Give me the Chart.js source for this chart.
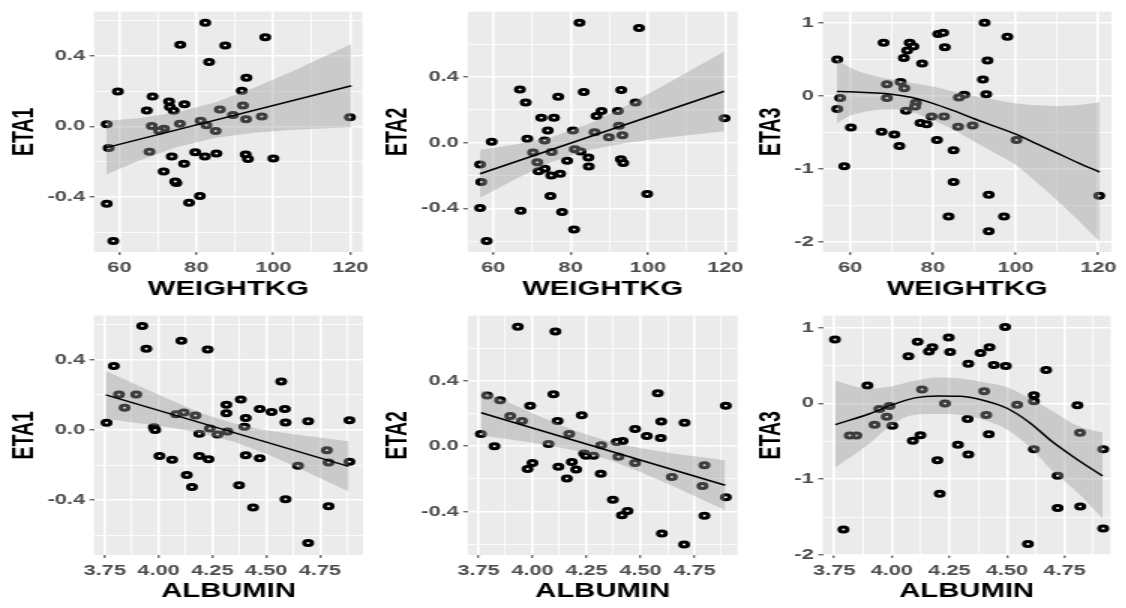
<!DOCTYPE html>
<html lang="pt">
<head>
<meta charset="utf-8">
<title>ETA vs covariáveis</title>
<script src="https://cdn.jsdelivr.net/npm/chart.js@4.4.1/dist/chart.umd.min.js"></script>
<style>
    body { margin: 0; background: #ffffff; width: 1126px; height: 608px; overflow: hidden; position: relative; }
    /* a figura original está esticada na horizontal, por isso cada painel é escalado */
    .painel { position: absolute; width: 250px; height: 304px; transform: scaleX(1.5); transform-origin: 0 0; }
</style>
</head>
<body>
<div class="painel" style="left:0;top:0"><canvas id="g1"></canvas></div>
<div class="painel" style="left:375px;top:0"><canvas id="g2"></canvas></div>
<div class="painel" style="left:750px;top:0"><canvas id="g3"></canvas></div>
<div class="painel" style="left:0;top:304px"><canvas id="g4"></canvas></div>
<div class="painel" style="left:375px;top:304px"><canvas id="g5"></canvas></div>
<div class="painel" style="left:750px;top:304px"><canvas id="g6"></canvas></div>

<script>
/* Marcas dos eixos */
const ticksPeso = [60, 80, 100, 120];
const minorPeso = [70, 90, 110];
const ticksAlbumina = [3.75, 4.00, 4.25, 4.50, 4.75];
const minorAlbumina = [3.875, 4.125, 4.375, 4.625, 4.875];
const ticksEta12 = [-0.4, 0.0, 0.4];
const minorEta12 = [-0.6, -0.2, 0.2, 0.6];
const ticksEta3 = [-2, -1, 0, 1];
const minorEta3 = [-1.5, -0.5, 0.5];

/* Pontos [x, y] de cada painel */
const eta1Peso = [
    [82.3, 0.589], [97.9, 0.506], [75.8, 0.463], [87.5, 0.459], [83.3, 0.365], [93.0, 0.276],
    [91.8, 0.202], [59.6, 0.198], [68.6, 0.170], [72.9, 0.141], [76.9, 0.126], [92.1, 0.119],
    [73.1, 0.111], [74.1, 0.089], [67.1, 0.091], [86.1, 0.096], [89.5, 0.065], [97.0, 0.057],
    [92.9, 0.041], [119.9, 0.052], [56.7, 0.013], [81.1, 0.033], [75.7, 0.015], [68.4, 0.002],
    [71.6, -0.013], [70.3, -0.024], [82.6, 0.007], [85.0, -0.026], [57.2, -0.122], [67.8, -0.143],
    [79.7, -0.146], [82.2, -0.170], [85.2, -0.154], [73.6, -0.170], [92.8, -0.159], [93.4, -0.185],
    [100.0, -0.181], [76.8, -0.211], [71.5, -0.256], [74.8, -0.320], [74.5, -0.312], [80.9, -0.394],
    [78.1, -0.433], [56.7, -0.439], [58.4, -0.650]
];
const eta2Peso = [
    [82.3, 0.732], [97.7, 0.700], [66.9, 0.324], [93.1, 0.322], [83.4, 0.310], [76.8, 0.281],
    [68.4, 0.245], [96.8, 0.245], [88.0, 0.193], [92.2, 0.193], [86.7, 0.163], [72.4, 0.153],
    [75.7, 0.153], [92.5, 0.103], [74.1, 0.074], [80.6, 0.074], [86.2, 0.064], [93.4, 0.046],
    [89.9, 0.034], [119.8, 0.149], [59.6, 0.006], [68.8, 0.024], [73.3, 0.014], [70.3, -0.060],
    [75.1, -0.056], [81.1, -0.040], [82.6, -0.054], [71.4, -0.119], [56.6, -0.133], [84.6, -0.090],
    [79.1, -0.109], [93.0, -0.100], [93.6, -0.123], [84.7, -0.145], [73.3, -0.159], [71.7, -0.173],
    [75.0, -0.199], [77.3, -0.189], [56.9, -0.239], [74.8, -0.324], [99.8, -0.312], [56.6, -0.398],
    [67.1, -0.414], [77.8, -0.422], [80.9, -0.529], [58.3, -0.599]
];
const eta3Peso = [
    [92.5, 1.006], [81.3, 0.849], [82.5, 0.867], [98.0, 0.813], [68.1, 0.732], [74.4, 0.732],
    [75.3, 0.678], [73.8, 0.624], [82.9, 0.669], [73.0, 0.521], [93.2, 0.489], [56.9, 0.503],
    [77.4, 0.445], [92.1, 0.229], [68.9, 0.162], [72.2, 0.193], [73.1, 0.108], [92.9, 0.027],
    [87.6, 0.018], [86.3, -0.018], [57.6, -0.027], [68.9, -0.027], [56.9, -0.175], [75.9, -0.090],
    [75.7, -0.144], [73.5, -0.202], [79.7, -0.278], [82.7, -0.278], [77.0, -0.368], [78.5, -0.386],
    [60.2, -0.431], [86.1, -0.418], [89.6, -0.404], [67.6, -0.489], [70.7, -0.525], [71.9, -0.683],
    [81.0, -0.602], [100.2, -0.602], [85.0, -0.741], [58.6, -0.961], [85.0, -1.177], [93.5, -1.352],
    [120.2, -1.365], [83.8, -1.648], [97.2, -1.648], [93.5, -1.850]
];
const eta1Albumina = [
    [3.924, 0.593], [4.106, 0.509], [3.943, 0.463], [4.228, 0.459], [3.792, 0.365], [4.570, 0.276],
    [3.816, 0.202], [3.896, 0.202], [3.842, 0.126], [4.382, 0.174], [4.315, 0.144], [4.315, 0.096],
    [4.470, 0.120], [4.525, 0.102], [4.587, 0.120], [4.117, 0.100], [4.081, 0.089], [4.171, 0.083],
    [4.405, 0.069], [4.887, 0.056], [4.695, 0.050], [4.590, 0.043], [3.758, 0.041], [3.978, 0.015],
    [4.399, 0.019], [3.984, 0.000], [4.238, 0.009], [4.320, -0.009], [4.274, -0.026], [4.189, -0.022],
    [4.782, -0.115], [4.004, -0.148], [4.189, -0.148], [4.405, -0.144], [4.232, -0.167], [4.063, -0.170],
    [4.470, -0.161], [4.790, -0.185], [4.887, -0.181], [4.648, -0.204], [4.131, -0.256], [4.155, -0.324],
    [4.374, -0.315], [4.590, -0.394], [4.439, -0.441], [4.790, -0.435], [4.695, -0.644]
];
const eta2Albumina = [
    [3.932, 0.732], [4.106, 0.702], [3.790, 0.310], [4.097, 0.318], [4.580, 0.324], [3.850, 0.281],
    [3.989, 0.247], [4.895, 0.247], [4.228, 0.189], [3.897, 0.185], [3.951, 0.155], [4.116, 0.155],
    [4.596, 0.151], [4.704, 0.143], [4.475, 0.105], [4.529, 0.062], [4.594, 0.050], [3.761, 0.074],
    [4.170, 0.074], [4.417, 0.032], [4.390, 0.026], [4.074, 0.014], [4.318, 0.006], [3.824, 0.000],
    [4.239, -0.044], [4.248, -0.058], [4.282, -0.058], [4.398, -0.064], [4.000, -0.103], [3.977, -0.139],
    [4.182, -0.096], [4.202, -0.143], [4.120, -0.125], [4.475, -0.103], [4.796, -0.117], [4.316, -0.169],
    [4.159, -0.197], [4.645, -0.189], [4.787, -0.243], [4.895, -0.312], [4.372, -0.328], [4.414, -0.422],
    [4.440, -0.396], [4.796, -0.426], [4.599, -0.535], [4.702, -0.601]
];
const eta3Albumina = [
    [3.753, 0.844], [4.492, 1.007], [4.247, 0.870], [4.112, 0.814], [4.176, 0.742], [4.161, 0.686],
    [4.253, 0.677], [4.424, 0.742], [4.385, 0.664], [4.072, 0.622], [4.332, 0.523], [4.443, 0.506],
    [4.495, 0.493], [4.670, 0.441], [3.894, 0.236], [4.131, 0.184], [4.401, 0.159], [4.617, 0.107],
    [4.617, 0.030], [4.231, 0.000], [4.544, -0.017], [4.806, -0.026], [3.990, -0.034], [3.946, -0.073],
    [4.410, -0.154], [3.978, -0.176], [4.329, -0.206], [3.925, -0.283], [4.002, -0.296], [4.817, -0.386],
    [3.846, -0.424], [3.817, -0.424], [4.124, -0.420], [4.091, -0.493], [4.421, -0.407], [4.287, -0.544],
    [4.332, -0.673], [4.617, -0.604], [4.918, -0.604], [4.198, -0.750], [4.720, -0.956], [4.208, -1.192],
    [4.720, -1.380], [4.818, -1.359], [3.790, -1.663], [4.918, -1.650], [4.591, -1.856]
];

/* Curvas ajustadas [x, y] */
const ajusteEta1Peso = [[56.6, -0.120], [120.3, 0.231]];
const ajusteEta2Peso = [[56.6, -0.189], [119.7, 0.314]];
const ajusteEta3Peso = [
    [56.8, 0.063], [60, 0.058], [65, 0.045], [70, 0.027], [75, -0.020], [80, -0.099], [85, -0.200],
    [90, -0.310], [95, -0.415], [100, -0.520], [105, -0.650], [110, -0.780], [115, -0.910], [120.3, -1.040]
];
const ajusteEta1Albumina = [[3.755, 0.200], [4.883, -0.207]];
const ajusteEta2Albumina = [[3.762, 0.205], [4.892, -0.239]];
const ajusteEta3Albumina = [
    [3.755, -0.280], [3.9, -0.140], [4.0, -0.020], [4.1, 0.073], [4.2, 0.099], [4.3, 0.094],
    [4.4, 0.039], [4.5, -0.064], [4.6, -0.257], [4.7, -0.514], [4.8, -0.729], [4.915, -0.956]
];

/* Intervalos de confiança [x, inferior, superior] */
const bandaEta1Peso = [
    [56.6, -0.272, 0.032], [65, -0.195, 0.047], [75, -0.117, 0.081], [85, -0.064, 0.138],
    [95, -0.035, 0.220], [105, -0.019, 0.313], [120.3, -0.004, 0.468]
];
const bandaEta2Peso = [
    [56.6, -0.336, -0.042], [65, -0.230, -0.014], [75, -0.118, 0.034], [85, -0.043, 0.117],
    [95, 0.001, 0.233], [105, 0.032, 0.362], [119.7, 0.070, 0.557]
];
const bandaEta3Peso = [
    [56.8, -0.374, 0.500], [60, -0.270, 0.390], [65, -0.200, 0.290], [70, -0.180, 0.230],
    [75, -0.220, 0.180], [80, -0.330, 0.130], [85, -0.460, 0.060], [90, -0.620, 0.000],
    [95, -0.780, -0.050], [100, -0.940, -0.100], [105, -1.175, -0.125], [110, -1.425, -0.135],
    [115, -1.695, -0.125], [120.3, -1.995, -0.085]
];
const bandaEta1Albumina = [
    [3.755, 0.064, 0.336], [3.9, 0.040, 0.256], [4.05, 0.015, 0.173], [4.2, -0.018, 0.096],
    [4.35, -0.067, 0.037], [4.5, -0.136, -0.002], [4.65, -0.217, -0.029], [4.883, -0.351, -0.064]
];
const bandaEta2Albumina = [
    [3.762, 0.066, 0.344], [3.9, 0.041, 0.261], [4.05, 0.011, 0.173], [4.2, -0.027, 0.093],
    [4.35, -0.082, 0.030], [4.5, -0.158, -0.013], [4.65, -0.244, -0.044], [4.892, -0.392, -0.086]
];
const bandaEta3Albumina = [
    [3.755, -0.844, 0.300], [3.9, -0.536, 0.193], [4.0, -0.279, 0.227], [4.1, -0.150, 0.300],
    [4.2, -0.141, 0.343], [4.3, -0.150, 0.330], [4.4, -0.219, 0.279], [4.5, -0.343, 0.214],
    [4.6, -0.579, 0.064], [4.7, -0.900, -0.107], [4.8, -1.157, -0.287], [4.915, -1.520, -0.386]
];

/* Fundo cinzento da área do gráfico, como no ggplot */
const fundoPainel = {
    id: 'fundoPainel',
    beforeDraw: function (chart) {
        const area = chart.chartArea;
        const ctx = chart.ctx;
        ctx.save();
        ctx.fillStyle = '#ebebeb';
        ctx.fillRect(area.left, area.top, area.right - area.left, area.bottom - area.top);
        ctx.restore();
    }
};

const fonte = 'Liberation Sans, Arial, Helvetica, sans-serif';

/* Configuração de um eixo com grelha principal e secundária */
function criarEixo(principais, secundarias, min, max, casas, titulo, extra) {
    const conjunto = new Set(principais);
    const todas = principais.concat(secundarias).filter(function (v) {
        return v >= min && v <= max;
    }).sort(function (a, b) { return a - b; });

    return Object.assign({
        type: 'linear',
        min: min,
        max: max,
        afterBuildTicks: function (eixo) {
            eixo.ticks = todas.map(function (v) { return { value: v }; });
        },
        border: { display: false },
        grid: {
            color: '#ffffff',
            lineWidth: function (c) { return c.tick && conjunto.has(c.tick.value) ? 1.6 : 0.8; },
            drawTicks: true,
            tickLength: 3,
            tickWidth: 1,
            tickColor: function (c) { return c.tick && conjunto.has(c.tick.value) ? '#333333' : 'rgba(0,0,0,0)'; }
        },
        ticks: {
            autoSkip: false,
            maxRotation: 0,
            color: '#4d4d4d',
            padding: 4,
            font: { family: fonte, weight: 'bold', size: 14.5 },
            callback: function (v) { return conjunto.has(v) ? v.toFixed(casas) : ''; }
        },
        title: {
            display: true,
            text: titulo,
            color: '#000000',
            font: { family: fonte, weight: 'bold', size: 19.5, lineHeight: 1 }
        }
    }, extra);
}

/* Desenha um painel: pontos, banda de confiança e curva ajustada */
function criarPainel(id, p) {
    const canvas = document.getElementById(id);
    if (!canvas) return;

    const eixoX = criarEixo(p.xTicks, p.xMinor, p.xMin, p.xMax, p.xCasas, p.xTitulo, {
        afterFit: function (eixo) { eixo.height = p.alturaX; }
    });
    eixoX.title.padding = { top: 0, bottom: p.tituloX };

    const eixoY = criarEixo(p.yTicks, p.yMinor, p.yMin, p.yMax, p.yCasas, p.yTitulo, {
        afterFit: function (eixo) { eixo.width = p.esquerda; }
    });
    eixoY.ticks.padding = 3;
    eixoY.title.padding = { top: p.tituloY, bottom: 0 };

    const curva = p.suave ? 'monotone' : 'default';

    new Chart(canvas, {
        type: 'scatter',
        data: {
            datasets: [
                {
                    data: p.pontos.map(function (d) { return { x: d[0], y: d[1] }; }),
                    pointStyle: 'circle',
                    pointRadius: 2.5,
                    pointBorderWidth: 3,
                    pointBorderColor: '#000000',
                    pointBackgroundColor: '#ffffff',
                    order: 3
                },
                {
                    data: p.banda.map(function (d) { return { x: d[0], y: d[2] }; }),
                    showLine: true,
                    pointRadius: 0,
                    borderWidth: 0,
                    cubicInterpolationMode: curva,
                    fill: '+1',
                    backgroundColor: 'rgba(153,153,153,0.4)',
                    order: 1
                },
                {
                    data: p.banda.map(function (d) { return { x: d[0], y: d[1] }; }),
                    showLine: true,
                    pointRadius: 0,
                    borderWidth: 0,
                    cubicInterpolationMode: curva,
                    fill: false,
                    order: 2
                },
                {
                    data: p.ajuste.map(function (d) { return { x: d[0], y: d[1] }; }),
                    showLine: true,
                    pointRadius: 0,
                    borderColor: '#000000',
                    borderWidth: 1.5,
                    cubicInterpolationMode: curva,
                    fill: false,
                    order: 0
                }
            ]
        },
        options: {
            responsive: true,
            maintainAspectRatio: false,
            animation: false,
            layout: { padding: { left: 0, right: 250 - p.direita, top: p.topo, bottom: 0 } },
            plugins: {
                legend: { display: false },
                tooltip: { enabled: false }
            },
            scales: { x: eixoX, y: eixoY }
        },
        plugins: [fundoPainel]
    });
}

document.addEventListener('DOMContentLoaded', function () {
    const topo = { xTicks: ticksPeso, xMinor: minorPeso, xMin: 53.4, xMax: 123.2, xCasas: 0, xTitulo: 'WEIGHTKG', topo: 5, alturaX: 52, tituloX: 4.75 };
    const baixo = { xTicks: ticksAlbumina, xMinor: minorAlbumina, xMin: 3.70, xMax: 4.95, xCasas: 2, xTitulo: 'ALBUMIN', topo: 5, alturaX: 53, tituloX: 6.75 };
    const eta12 = { yTicks: ticksEta12, yMinor: minorEta12, yCasas: 1 };
    const eta3 = { yTicks: ticksEta3, yMinor: minorEta3, yCasas: 0 };

    criarPainel('g1', Object.assign({}, topo, eta12, {
        pontos: eta1Peso, ajuste: ajusteEta1Peso, banda: bandaEta1Peso, suave: false,
        yTitulo: 'ETA1', yMin: -0.712, yMax: 0.651, esquerda: 62.7, direita: 242, tituloY: 7.25
    }));
    criarPainel('g2', Object.assign({}, topo, eta12, {
        pontos: eta2Peso, ajuste: ajusteEta2Peso, banda: bandaEta2Peso, suave: false,
        yTitulo: 'ETA2', yMin: -0.666, yMax: 0.799, esquerda: 61.8, direita: 242, tituloY: 6.35
    }));
    criarPainel('g3', Object.assign({}, topo, eta3, {
        pontos: eta3Peso, ajuste: ajusteEta3Peso, banda: bandaEta3Peso, suave: true,
        yTitulo: 'ETA3', yMin: -2.135, yMax: 1.156, esquerda: 48.5, direita: 241.1, tituloY: 5.25
    }));
    criarPainel('g4', Object.assign({}, baixo, eta12, {
        pontos: eta1Albumina, ajuste: ajusteEta1Albumina, banda: bandaEta1Albumina, suave: false,
        yTitulo: 'ETA1', yMin: -0.712, yMax: 0.651, esquerda: 62.7, direita: 242, tituloY: 7.25
    }));
    criarPainel('g5', Object.assign({}, baixo, eta12, {
        pontos: eta2Albumina, ajuste: ajusteEta2Albumina, banda: bandaEta2Albumina, suave: false,
        yTitulo: 'ETA2', yMin: -0.666, yMax: 0.799, esquerda: 61.8, direita: 241.8, tituloY: 6.35
    }));
    criarPainel('g6', Object.assign({}, baixo, eta3, {
        pontos: eta3Albumina, ajuste: ajusteEta3Albumina, banda: bandaEta3Albumina, suave: true,
        yTitulo: 'ETA3', yMin: -2.0, yMax: 1.157, esquerda: 48.5, direita: 240.4, tituloY: 5.25
    }));
});
</script>
</body>
</html>
